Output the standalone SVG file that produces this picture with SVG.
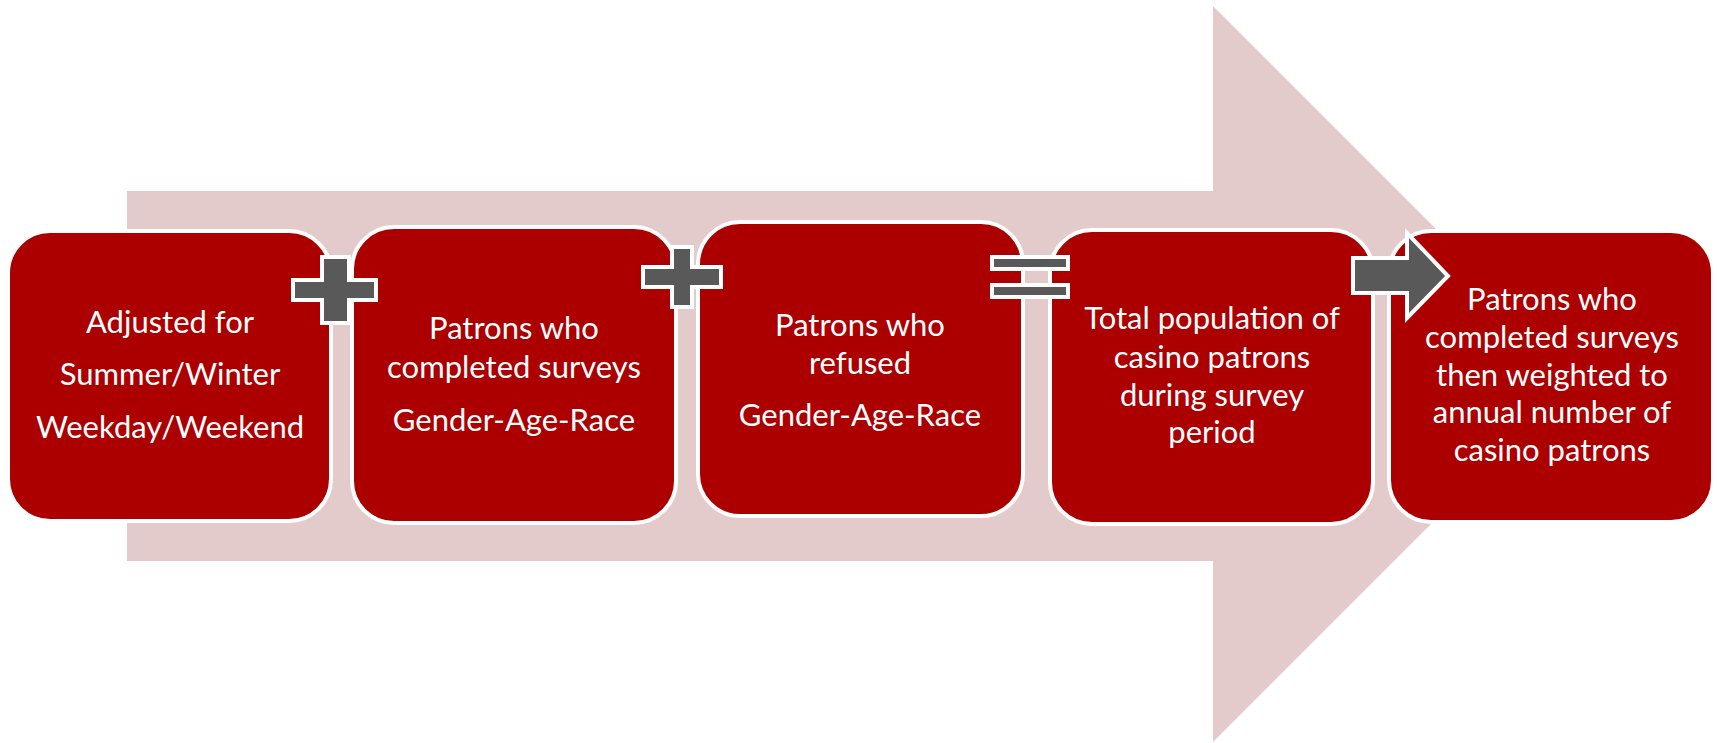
<svg xmlns="http://www.w3.org/2000/svg" width="1717" height="743" viewBox="0 0 1717 743">
<style>
.box{fill:#AC0000;stroke:#FFFFFF;stroke-width:4}
.op{fill:#595959;stroke:#FFFFFF;stroke-width:4}
.t{font-family:Lato,"Open Sans","DejaVu Sans",sans-serif;font-size:31px;fill:#FFFFFF;text-anchor:middle}
</style>
<rect width="1717" height="743" fill="#FFFFFF"/>
<polygon id="big-arrow" points="127,191 1213,191 1213,6 1581,374 1213,742 1213,561 127,561" fill="#E3CBCB"/>
<g id="node1">
<rect class="box" x="8" y="231" width="323" height="290" rx="42"/>
<text class="t" x="170" y="333">Adjusted for</text>
<text class="t" x="170" y="385">Summer/Winter</text>
<text class="t" x="170" y="438">Weekday/Weekend</text>
</g>
<g id="node2">
<rect class="box" x="352" y="227" width="324" height="296" rx="42"/>
<text class="t" x="514" y="339">Patrons who</text>
<text class="t" x="514" y="378">completed surveys</text>
<text class="t" x="514" y="431">Gender-Age-Race</text>
</g>
<g id="node3">
<rect class="box" x="698" y="222" width="325" height="294" rx="42"/>
<text class="t" x="860" y="336">Patrons who</text>
<text class="t" x="860" y="374">refused</text>
<text class="t" x="860" y="426">Gender-Age-Race</text>
</g>
<g id="node4">
<rect class="box" x="1050" y="230" width="323" height="294" rx="42"/>
<text class="t" x="1212" y="329">Total population of</text>
<text class="t" x="1212" y="368">casino patrons</text>
<text class="t" x="1212" y="406">during survey</text>
<text class="t" x="1212" y="443">period</text>
</g>
<g id="node5">
<rect class="box" x="1389" y="231" width="324" height="291" rx="42"/>
<text class="t" x="1552" y="310">Patrons who</text>
<text class="t" x="1552" y="348">completed surveys</text>
<text class="t" x="1552" y="386">then weighted to</text>
<text class="t" x="1552" y="423">annual number of</text>
<text class="t" x="1552" y="461">casino patrons</text>
</g>
<g id="connectors">
<polygon id="plus1" class="op" points="322,257 349,257 349,280 376,280 376,300 349,300 349,323 322,323 322,300 293,300 293,280 322,280"/>
<polygon id="plus2" class="op" points="672,247 692,247 692,267 721,267 721,287 692,287 692,307 672,307 672,287 643,287 643,267 672,267"/>
<g id="equals">
<rect class="op" x="992" y="257" width="76" height="12"/>
<rect class="op" x="992" y="285" width="76" height="12"/>
</g>
<polygon id="arrow" class="op" points="1353,258 1407,258 1407,233 1448,276 1407,318 1407,293 1353,293"/>
</g>
</svg>
